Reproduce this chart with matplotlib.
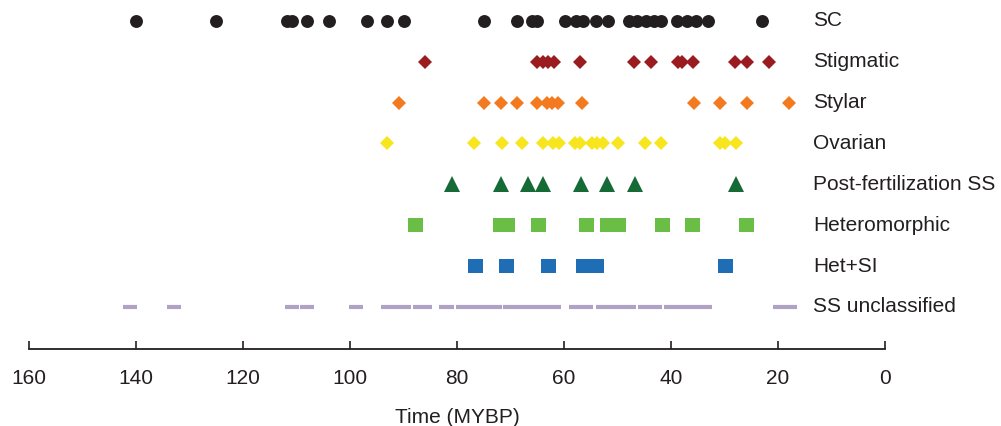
import matplotlib.pyplot as plt

plt.rcParams['font.family'] = ['Liberation Sans', 'DejaVu Sans']

# time points (MYBP) for each category
sc = [140.0, 125.0, 111.7, 110.8, 108.0, 103.9, 96.9, 93.0, 89.9, 74.9,
      68.8, 66.0, 65.0, 59.8, 57.7, 56.5, 54.1, 51.7, 47.9, 46.4, 44.7,
      43.2, 41.9, 38.8, 37.0, 35.4, 33.0, 22.9]
stigmatic = [86.0, 65.0, 63.9, 62.9, 61.9, 57.0, 47.0, 43.7, 38.7, 37.9,
             35.8, 28.0, 25.8, 21.7]
stylar = [90.9, 74.9, 71.8, 68.8, 65.0, 63.2, 62.3, 61.2, 56.7, 35.7,
          30.8, 25.8, 17.9]
ovarian = [93.0, 76.8, 71.6, 67.9, 64.0, 62.0, 61.0, 57.9, 57.0, 54.8,
           53.9, 52.8, 49.9, 44.9, 41.9, 30.8, 29.9, 27.9]
post_fert = [80.9, 71.8, 66.8, 63.9, 56.9, 51.9, 46.8, 27.9]
heteromorphic = [87.9, 71.9, 70.6, 64.8, 55.8, 51.9, 50.0, 41.6, 36.0, 25.9]
het_si = [76.7, 70.9, 62.9, 56.5, 54.1, 30.0]

# SS unclassified are ranges
ss_start = [142.4, 134.2, 112.1, 109.3, 100.2, 94.2, 88.2, 83.4, 80.2,
            71.4, 59.1, 54.0, 46.2, 41.3, 20.9]
ss_end = [139.8, 131.6, 109.5, 106.7, 97.6, 88.6, 84.6, 80.6, 71.6,
          60.6, 54.6, 46.5, 41.7, 32.3, 16.4]

names = ['SC', 'Stigmatic', 'Stylar', 'Ovarian', 'Post-fertilization SS',
         'Heteromorphic', 'Het+SI', 'SS unclassified']
xticks = [160, 140, 120, 100, 80, 60, 40, 20, 0]

fig = plt.figure(figsize=(10.01, 4.26), dpi=100)
ax = fig.add_axes([29 / 1001, 77 / 426, 856 / 1001, 1 - 77 / 426 - 0.5 / 426])

rect = [(-1.15, -1), (1.15, -1), (1.15, 1), (-1.15, 1)]
series = [
    (sc, 7, dict(marker='o', ms=9.3, color='#231f20')),
    (stigmatic, 6, dict(marker='D', ms=7.2, color='#9b1c20')),
    (stylar, 5, dict(marker='D', ms=7.2, color='#f47a20')),
    (ovarian, 4, dict(marker='D', ms=7.2, color='#f7e51e')),
    (post_fert, 3, dict(marker='^', ms=11, color='#166a35')),
    (heteromorphic, 2, dict(marker=rect, ms=10.8, color='#6abd45')),
    (het_si, 1, dict(marker=rect, ms=10.8, color='#1f6db5')),
]
for vals, row, style in series:
    ax.plot(vals, [row] * len(vals), ls='none', mew=0, **style)

ax.hlines([0] * len(ss_start), ss_start, ss_end, color='#b0a2c6',
          lw=3, capstyle='butt')

for i, name in enumerate(names):
    ax.text(13.5, 7 - i, name, va='center', ha='left', fontsize=15,
            color='#231f20')

ax.set_xlim(160, 0)
ax.set_ylim(-1.03, 7.5)
ax.set_xticks(xticks)
ax.set_yticks([])
for s in ['top', 'left', 'right']:
    ax.spines[s].set_visible(False)
ax.spines['bottom'].set_linewidth(1.3)
ax.spines['bottom'].set_color('#231f20')
ax.tick_params(axis='x', direction='in', length=6, width=1.2, pad=14.5,
               labelsize=15, colors='#231f20')
ax.set_xlabel('Time (MYBP)', fontsize=15, labelpad=14, color='#231f20')

fig.savefig('out.png', dpi=100)
